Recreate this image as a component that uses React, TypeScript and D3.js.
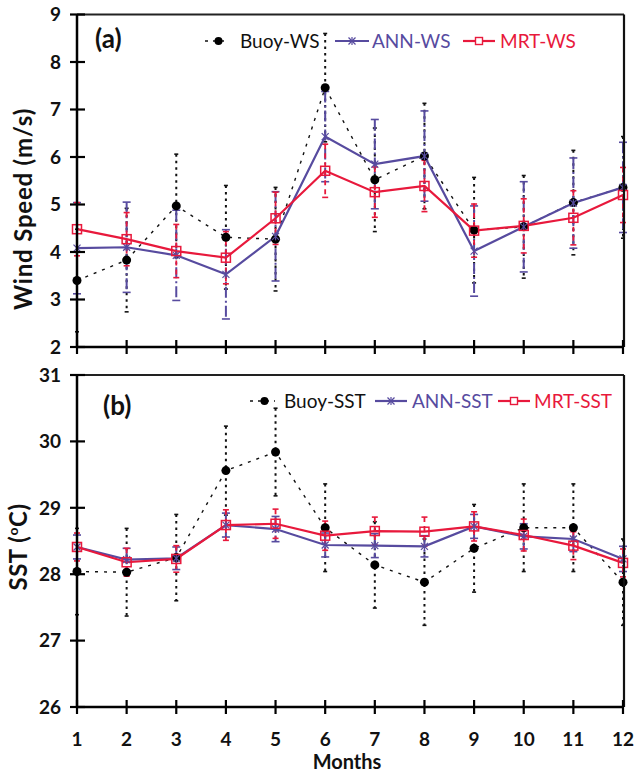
import React from "react";
import * as d3 from "d3";

const months = [1, 2, 3, 4, 5, 6, 7, 8, 9, 10, 11, 12];

const buoyWS = [3.4, 3.83, 4.97, 4.31, 4.27, 7.46, 5.52, 6.02, 4.46, 4.53, 5.04, 5.36];
const buoyWSsd = [1.08, 1.09, 1.09, 1.09, 1.09, 1.14, 1.09, 1.11, 1.11, 1.08, 1.1, 1.07];
const annWS = [4.08, 4.1, 3.93, 3.53, 4.33, 6.43, 5.85, 6.02, 4.02, 4.53, 5.03, 5.36];
const annWSsd = [0.96, 0.95, 0.95, 0.94, 0.94, 0.95, 0.94, 0.95, 0.95, 0.95, 0.95, 0.95];
const mrtWS = [4.48, 4.27, 4.02, 3.88, 4.71, 5.71, 5.26, 5.39, 4.45, 4.55, 4.72, 5.2];
const mrtWSsd = [0.56, 0.56, 0.56, 0.55, 0.55, 0.56, 0.53, 0.54, 0.56, 0.57, 0.57, 0.58];

const buoySST = [28.04, 28.03, 28.25, 29.56, 29.84, 28.7, 28.14, 27.88, 28.39, 28.7, 28.7, 27.88];
const buoySSTsd = [0.65, 0.66, 0.65, 0.67, 0.66, 0.66, 0.65, 0.65, 0.66, 0.66, 0.66, 0.65];
const annSST = [28.41, 28.22, 28.24, 28.74, 28.68, 28.44, 28.43, 28.42, 28.72, 28.57, 28.53, 28.23];
const annSSTsd = [0.18, 0.17, 0.17, 0.18, 0.19, 0.18, 0.18, 0.16, 0.18, 0.19, 0.19, 0.19];
const mrtSST = [28.41, 28.18, 28.23, 28.74, 28.76, 28.58, 28.65, 28.64, 28.72, 28.59, 28.43, 28.17];
const mrtSSTsd = [0.21, 0.21, 0.2, 0.23, 0.22, 0.22, 0.21, 0.22, 0.22, 0.24, 0.21, 0.21];

const wsTicks = [2, 3, 4, 5, 6, 7, 8, 9];
const sstTicks = [26, 27, 28, 29, 30, 31];

const BLUE = "#574B9F";
const RED = "#E8193C";
const FONT = "Lato, 'Open Sans', sans-serif";

const X0 = 77;
const X1 = 623;

type Series = { vals: number[]; sd: number[] };

function Panel(props: {
  top: number;
  bottom: number;
  domain: [number, number];
  ticks: number[];
  buoy: Series;
  ann: Series;
  mrt: Series;
  tag: string;
  tagX: number;
  tagY: number;
  legY: number;
  leg: { buoyLine: [number, number]; buoyText: number; annLine: [number, number]; annText: number; mrtLine: [number, number]; mrtText: number };
  names: [string, string, string];
  xLabels: boolean;
}) {
  const x = d3.scaleLinear().domain([1, 12]).range([X0, X1]);
  const y = d3.scaleLinear().domain(props.domain).range([props.bottom, props.top]);
  const line = d3
    .line<number>()
    .x((_, i) => x(months[i]))
    .y((v) => y(v));

  const errBars = (s: Series, color: string, dash: string, cap: number, w: number, key: string) =>
    s.vals.map((v, i) => {
      const cx = x(months[i]);
      const y1 = y(v + s.sd[i]);
      const y2 = y(v - s.sd[i]);
      return (
        <g key={key + i}>
          <line x1={cx} x2={cx} y1={y1} y2={y2} stroke={color} strokeWidth={w} strokeDasharray={dash} />
          <line x1={cx - cap} x2={cx + cap} y1={y1} y2={y1} stroke={color} strokeWidth={1.6} />
          <line x1={cx - cap} x2={cx + cap} y1={y2} y2={y2} stroke={color} strokeWidth={1.6} />
        </g>
      );
    });

  const star = (cx: number, cy: number, key: string) => (
    <g key={key} stroke={BLUE} strokeWidth={1.2}>
      <line x1={cx - 3.5} x2={cx + 3.5} y1={cy - 3.5} y2={cy + 3.5} />
      <line x1={cx - 3.5} x2={cx + 3.5} y1={cy + 3.5} y2={cy - 3.5} />
      <line x1={cx} x2={cx} y1={cy - 4} y2={cy + 4} />
    </g>
  );
  const square = (cx: number, cy: number, key: string) => (
    <rect key={key} x={cx - 4.5} y={cy - 4.5} width={9} height={9} fill="none" stroke={RED} strokeWidth={1.5} />
  );

  const { leg, legY } = props;

  return (
    <g>
      {/* error bars */}
      {errBars(props.buoy, "#111", "2.5,4", 2, 2, "be")}
      {errBars(props.ann, BLUE, "11,3,2,3", 4, 2, "ae")}
      {errBars(props.mrt, RED, "5,4", 3, 1.8, "me")}

      {/* lines */}
      <path d={line(props.buoy.vals) || ""} fill="none" stroke="#111" strokeWidth={1.4} strokeDasharray="3,6" />
      <path d={line(props.ann.vals) || ""} fill="none" stroke={BLUE} strokeWidth={2.2} />
      <path d={line(props.mrt.vals) || ""} fill="none" stroke={RED} strokeWidth={2.2} />

      {/* markers */}
      {props.buoy.vals.map((v, i) => (
        <circle key={"bm" + i} cx={x(months[i])} cy={y(v)} r={4.5} fill="#000" />
      ))}
      {props.ann.vals.map((v, i) => star(x(months[i]), y(v), "am" + i))}
      {props.mrt.vals.map((v, i) => square(x(months[i]), y(v), "mm" + i))}

      {/* frame */}
      <line x1={X0} x2={X1 + 1} y1={props.top} y2={props.top} stroke="#222" strokeWidth={2} />
      <line x1={X1 + 1} x2={X1 + 1} y1={props.top} y2={props.bottom} stroke="#111" strokeWidth={2.2} />
      <line x1={X0} x2={X0} y1={props.top} y2={props.bottom} stroke="#000" strokeWidth={2.5} />
      <line x1={X0} x2={X1 + 1} y1={props.bottom} y2={props.bottom} stroke="#000" strokeWidth={2.5} />

      {/* y ticks */}
      {props.ticks.map((t) => (
        <g key={"yt" + t}>
          <line x1={X0 - 7} x2={X0 + 8} y1={y(t)} y2={y(t)} stroke="#000" strokeWidth={2.2} />
          <text x={61} y={y(t)} dy="0.36em" textAnchor="end" fontFamily={FONT} fontWeight={700} fontSize={19} fill="#111">
            {t}
          </text>
        </g>
      ))}
      {/* x ticks */}
      {months.map((m) => (
        <g key={"xt" + m}>
          <line x1={x(m)} x2={x(m)} y1={props.bottom - 7} y2={props.bottom + 7} stroke="#000" strokeWidth={2.2} />
          {props.xLabels && (
            <text x={x(m)} y={746} textAnchor="middle" fontFamily={FONT} fontWeight={700} fontSize={19} fill="#111">
              {m}
            </text>
          )}
        </g>
      ))}

      {/* tag */}
      <text x={props.tagX} y={props.tagY} fontFamily={FONT} fontWeight={700} fontSize={26} fill="#111">
        {props.tag}
      </text>

      {/* legend */}
      <line x1={leg.buoyLine[0]} x2={leg.buoyLine[1]} y1={legY} y2={legY} stroke="#111" strokeWidth={1.5} strokeDasharray="3,5" />
      <circle cx={(leg.buoyLine[0] + leg.buoyLine[1]) / 2 + 2} cy={legY} r={4} fill="#000" />
      <text x={leg.buoyText} y={legY} dy="0.36em" fontFamily={FONT} fontSize={19} fill="#111">
        {props.names[0]}
      </text>
      <line x1={leg.annLine[0]} x2={leg.annLine[1]} y1={legY} y2={legY} stroke={BLUE} strokeWidth={2.2} />
      {star((leg.annLine[0] + leg.annLine[1]) / 2, legY, "legstar")}
      <text x={leg.annText} y={legY} dy="0.36em" fontFamily={FONT} fontSize={19} fill={BLUE}>
        {props.names[1]}
      </text>
      <line x1={leg.mrtLine[0]} x2={leg.mrtLine[1]} y1={legY} y2={legY} stroke={RED} strokeWidth={2.2} />
      <rect x={(leg.mrtLine[0] + leg.mrtLine[1]) / 2 - 3.5} y={legY - 3.5} width={7} height={7} fill="#fff" stroke={RED} strokeWidth={1.4} />
      <text x={leg.mrtText} y={legY} dy="0.36em" fontFamily={FONT} fontSize={19} fill={RED}>
        {props.names[2]}
      </text>
    </g>
  );
}

export default function App() {
  return (
    <svg width={635} height={774} style={{ position: "absolute", left: 0, top: 0, background: "#fff" }}>
      <rect width={635} height={774} fill="#fff" />
      <Panel
        top={14.5}
        bottom={347}
        domain={[2, 9]}
        ticks={wsTicks}
        buoy={{ vals: buoyWS, sd: buoyWSsd }}
        ann={{ vals: annWS, sd: annWSsd }}
        mrt={{ vals: mrtWS, sd: mrtWSsd }}
        tag="(a)"
        tagX={95}
        tagY={48}
        legY={41}
        leg={{ buoyLine: [205, 228], buoyText: 240, annLine: [335, 369], annText: 372, mrtLine: [463, 495], mrtText: 500 }}
        names={["Buoy-WS", "ANN-WS", "MRT-WS"]}
        xLabels={false}
      />
      <Panel
        top={375}
        bottom={707}
        domain={[26, 31]}
        ticks={sstTicks}
        buoy={{ vals: buoySST, sd: buoySSTsd }}
        ann={{ vals: annSST, sd: annSSTsd }}
        mrt={{ vals: mrtSST, sd: mrtSSTsd }}
        tag="(b)"
        tagX={103}
        tagY={415}
        legY={401}
        leg={{ buoyLine: [250, 275], buoyText: 284, annLine: [375, 407], annText: 412, mrtLine: [498, 530], mrtText: 534 }}
        names={["Buoy-SST", "ANN-SST", "MRT-SST"]}
        xLabels={true}
      />
      <text
        transform="translate(32,209) rotate(-90)"
        textAnchor="middle"
        fontFamily={FONT}
        fontWeight={700}
        fontSize={24}
        letterSpacing={0.8}
        fill="#111"
      >
        Wind Speed (m/s)
      </text>
      <text
        transform="translate(27,547) rotate(-90)"
        textAnchor="middle"
        fontFamily={FONT}
        fontWeight={700}
        fontSize={24}
        letterSpacing={0.5}
        fill="#111"
      >
        SST (
        <tspan fontSize={14} dy={-9}>
          o
        </tspan>
        <tspan dy={9}>C)</tspan>
      </text>
      <text x={347} y={769} textAnchor="middle" fontFamily={FONT} fontWeight={700} fontSize={20} fill="#111">
        Months
      </text>
    </svg>
  );
}
